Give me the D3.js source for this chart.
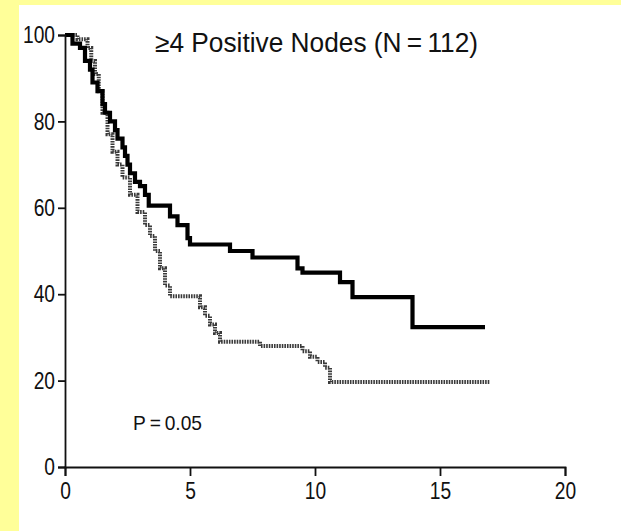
<!DOCTYPE html>
<html>
<head>
<meta charset="utf-8">
<script src="https://cdn.jsdelivr.net/npm/d3@7"></script>
<style>
  html, body { margin: 0; padding: 0; background: #FFFF99; }
  svg { display: block; }
  text { font-family: "Liberation Sans", Arial, sans-serif; fill: #111; }
</style>
</head>
<body>
<svg id="chart" width="621" height="531"></svg>
<script>
// ---- data ----
const titleText = "\u2265" + "4 Positive Nodes (N\u2009=\u2009112)";
const pText = "P\u2009=\u20090.05";
const xTicks = [0, 5, 10, 15, 20];
const yTicks = [0, 20, 40, 60, 80, 100];

// Solid (black) Kaplan–Meier curve: step times and survival after each step
const solidTimes = [0, 0.3, 0.6, 0.8, 1.0, 1.1, 1.3, 1.5, 1.6, 1.8, 2.0, 2.1, 2.3, 2.4, 2.5, 2.6, 2.8, 3.0, 3.2, 3.35, 4.2, 4.5, 4.9, 5.0, 6.6, 7.5, 9.3, 9.5, 11.0, 11.5, 13.9, 16.8];
const solidValues = [100, 98, 97, 94, 92, 89, 87, 84, 82, 80, 78, 76, 74, 72, 70, 68, 66, 65, 63, 60.5, 58, 56, 53, 51.5, 50, 48.5, 46, 45, 42.8, 39.3, 32.4, 32.4];

// Hatched (grey) curve
const greyTimes = [0, 0.5, 0.9, 1.05, 1.2, 1.35, 1.5, 1.7, 1.9, 2.1, 2.3, 2.6, 2.9, 3.2, 3.4, 3.6, 3.8, 4.0, 4.2, 5.4, 5.6, 5.8, 6.0, 6.2, 7.8, 9.5, 9.8, 10.1, 10.4, 10.6, 17.0];
const greyValues = [100, 99, 97, 94, 91, 87, 82, 77, 73, 70, 67, 63, 59, 56, 53.5, 50, 46, 42, 39.5, 37, 35, 33, 31, 29, 28, 26.8, 25.5, 24.3, 23, 19.7, 19.7];

// ---- drawing ----
const svg = d3.select("#chart");
svg.append("rect").attr("x", 19).attr("y", 5).attr("width", 602).attr("height", 526).attr("fill", "#ffffff");

const x = d3.scaleLinear().domain([0, 20]).range([65, 565]);
const y = d3.scaleLinear().domain([0, 100]).range([467, 35]);

const solid = solidTimes.map((t, i) => [t, solidValues[i]]);
const grey = greyTimes.map((t, i) => [t, greyValues[i]]);
const line = d3.line().x(d => x(d[0])).y(d => y(d[1])).curve(d3.curveStepAfter);

function condense(sel, factor) {
  sel.each(function () {
    const w = this.getComputedTextLength();
    d3.select(this).attr("textLength", w * factor).attr("lengthAdjust", "spacingAndGlyphs");
  });
}

svg.append("path").datum(grey)
  .attr("d", line).attr("fill", "none")
  .attr("stroke", "#3a3a3a").attr("stroke-width", 4)
  .attr("stroke-dasharray", "1.6,1");

svg.append("path").datum(solid)
  .attr("d", line).attr("fill", "none")
  .attr("stroke", "#000").attr("stroke-width", 4.2)
  .attr("stroke-linejoin", "miter");

// axes
const yAxis = svg.append("g").attr("transform", "translate(65,0)")
  .call(d3.axisLeft(y).tickValues(yTicks).tickSize(7).tickPadding(3));
const xAxis = svg.append("g").attr("transform", "translate(0,467)")
  .call(d3.axisBottom(x).tickValues(xTicks).tickSize(9).tickPadding(6));
[yAxis, xAxis].forEach(g => {
  g.select(".domain").attr("stroke", "#111").attr("stroke-width", 1.8);
  g.selectAll(".tick line").attr("stroke", "#111").attr("stroke-width", 1.8);
  g.selectAll(".tick text").attr("font-size", 24)
    .attr("font-family", "'Liberation Sans', Arial, sans-serif")
    .attr("fill", "#111")
    .call(condense, 0.8);
});

svg.append("text").attr("x", 155).attr("y", 52)
  .attr("font-size", 27).text(titleText)
  .attr("textLength", 323).attr("lengthAdjust", "spacingAndGlyphs");

svg.append("text").attr("x", 133).attr("y", 430)
  .attr("font-size", 21).text(pText)
  .attr("textLength", 69).attr("lengthAdjust", "spacingAndGlyphs");
</script>
</body>
</html>
